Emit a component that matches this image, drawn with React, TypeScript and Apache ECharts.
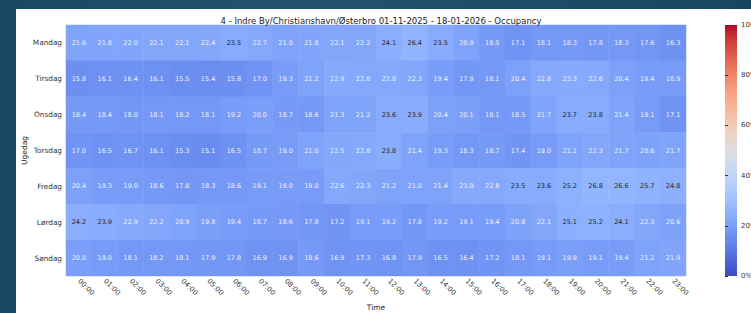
import React, { useEffect, useRef } from "react";
import * as echarts from "echarts";

const titleText = "4 - Indre By/Christianshavn/Østerbro 01-11-2025 - 18-01-2026 - Occupancy";
const days = ["Mandag", "Tirsdag", "Onsdag", "Torsdag", "Fredag", "Lørdag", "Søndag"];
const hours = [
  "00:00", "01:00", "02:00", "03:00", "04:00", "05:00", "06:00", "07:00",
  "08:00", "09:00", "10:00", "11:00", "12:00", "13:00", "14:00", "15:00",
  "16:00", "17:00", "18:00", "19:00", "20:00", "21:00", "22:00", "23:00",
];
const mandag = [21.6, 21.8, 22.0, 22.1, 22.1, 22.4, 23.5, 22.7, 21.0, 21.8, 22.1, 22.2, 24.1, 26.4, 23.5, 20.9, 18.5, 17.1, 18.1, 18.3, 17.8, 18.3, 17.6, 16.3];
const tirsdag = [15.8, 16.1, 16.4, 16.1, 15.5, 15.4, 15.8, 17.0, 19.3, 21.2, 22.9, 22.8, 22.8, 22.3, 19.4, 17.9, 18.1, 20.4, 22.6, 23.3, 22.6, 20.4, 19.4, 18.9];
const onsdag = [18.4, 18.4, 18.0, 18.1, 18.2, 18.1, 19.2, 20.0, 18.7, 18.6, 21.3, 21.2, 23.6, 23.9, 20.4, 20.1, 18.1, 18.5, 21.7, 23.7, 23.8, 21.4, 19.1, 17.1];
const torsdag = [17.0, 16.5, 16.7, 16.1, 15.3, 15.1, 16.5, 18.7, 19.0, 21.0, 22.5, 22.8, 23.8, 21.4, 19.3, 18.3, 18.7, 17.4, 19.0, 21.1, 22.3, 21.7, 20.6, 21.7];
const fredag = [20.4, 19.3, 19.0, 18.6, 17.8, 18.3, 18.6, 19.1, 19.0, 19.0, 22.6, 22.3, 21.2, 21.0, 21.4, 23.0, 22.8, 23.5, 23.6, 25.2, 26.8, 26.6, 25.7, 24.8];
const loerdag = [24.2, 23.9, 22.9, 22.2, 20.9, 19.8, 19.4, 18.7, 18.6, 17.8, 17.2, 19.1, 19.2, 17.8, 19.2, 19.1, 19.4, 20.8, 22.1, 25.1, 25.2, 24.1, 22.3, 20.6];
const soendag = [20.0, 19.0, 18.1, 18.2, 18.1, 17.9, 17.8, 16.9, 16.9, 18.6, 16.9, 17.3, 16.8, 17.9, 16.5, 16.4, 17.2, 18.1, 19.1, 19.9, 19.1, 19.4, 21.2, 21.9];
const rows = [mandag, tirsdag, onsdag, torsdag, fredag, loerdag, soendag];

const coolwarm = [
  "#3b4cc0", "#445acc", "#4d68d7", "#5775e1", "#6282ea", "#6c8ef1", "#779af7", "#82a5fb",
  "#8db0fe", "#98b9ff", "#a3c2ff", "#aec9fd", "#b8d0f9", "#c2d5f4", "#ccd9ee", "#d5dbe6",
  "#dddddd", "#e5d8d1", "#ecd3c5", "#f1ccb8", "#f5c4ac", "#f7bb9f", "#f7b193", "#f7a686",
  "#f49a7b", "#f18d6f", "#ec7f63", "#e57058", "#de604d", "#d55042", "#cb3e38", "#c0282f",
  "#b40426",
];

const FONT = "DejaVu Sans";

export default function App() {
  const ref = useRef<HTMLDivElement>(null);
  useEffect(() => {
    if (!ref.current) return;
    const chart = echarts.init(ref.current, undefined, { renderer: "svg" });
    const data: any[] = [];
    rows.forEach((row, yi) => {
      row.forEach((v, xi) => {
        data.push({
          value: [xi, yi, v],
          label: { color: v >= 23.4 ? "#262626" : "#eef1ff" },
        });
      });
    });
    const n = coolwarm.length - 1;
    const barGradient = new echarts.graphic.LinearGradient(
      0, 1, 0, 0,
      coolwarm.map((c, i) => ({ offset: i / n, color: c }))
    );
    chart.setOption({
      animation: false,
      backgroundColor: "#ffffff",
      textStyle: { fontFamily: FONT },
      title: {
        text: titleText,
        left: 360,
        top: 2,
        textAlign: "center",
        textStyle: { fontFamily: FONT, fontSize: 8.5, fontWeight: "normal", color: "#222" },
      },
      grid: [
        { left: 50, top: 16, width: 620, height: 251, outerBoundsMode: "none", containLabel: false },
        {
          left: 709, top: 16, width: 12, height: 251, outerBoundsMode: "none", containLabel: false,
          show: true, backgroundColor: barGradient, borderWidth: 0,
        },
      ],
      xAxis: [
        {
          type: "category",
          gridIndex: 0,
          data: hours,
          name: "Time",
          nameLocation: "middle",
          nameGap: 27,
          nameMoveOverlap: false,
          nameTextStyle: { fontFamily: FONT, fontSize: 7.5, color: "#262626" },
          axisLine: { show: false },
          axisTick: { alignWithLabel: true, length: 3, lineStyle: { color: "#333" } },
          axisLabel: { rotate: -45, interval: 0, fontSize: 7, color: "#333", margin: 4, fontFamily: FONT },
          splitLine: { show: false },
        },
        { type: "value", gridIndex: 1, show: false, min: 0, max: 1 },
      ],
      yAxis: [
        {
          type: "category",
          gridIndex: 0,
          data: days,
          inverse: true,
          name: "Ugedag",
          nameLocation: "middle",
          nameRotate: 90,
          nameGap: 38,
          nameMoveOverlap: false,
          nameTextStyle: { fontFamily: FONT, fontSize: 7.5, color: "#262626" },
          axisLine: { show: false },
          axisTick: { alignWithLabel: true, length: 3, lineStyle: { color: "#333" } },
          axisLabel: { fontSize: 7.3, color: "#333", margin: 4, fontFamily: FONT },
          splitLine: { show: false },
        },
        {
          type: "value",
          gridIndex: 1,
          min: 0,
          max: 100,
          interval: 20,
          position: "right",
          axisLine: { show: false },
          axisTick: { show: true, length: 3, lineStyle: { color: "#333" } },
          axisLabel: { formatter: "{value}%", fontSize: 7, color: "#333", margin: 4, fontFamily: FONT },
          splitLine: { show: false },
        },
      ],
      visualMap: {
        type: "continuous",
        show: false,
        seriesIndex: 0,
        min: 0,
        max: 100,
        inRange: { color: coolwarm },
      },
      series: [
        {
          type: "heatmap",
          xAxisIndex: 0,
          yAxisIndex: 0,
          data,
          label: {
            show: true,
            fontSize: 6.5,
            fontFamily: FONT,
            formatter: (p: any) => p.value[2].toFixed(1),
          },
          itemStyle: { borderWidth: 0 },
          emphasis: { disabled: true },
        },
      ],
    });
    return () => chart.dispose();
  }, []);
  return (
    <div style={{ position: "fixed", left: 0, top: 0, width: 751, height: 313, background: "linear-gradient(90deg, #1a4863, #21536f 40%, #184660)", overflow: "hidden" }}>
      <div ref={ref} style={{ position: "absolute", left: 16, top: 9, width: 735, height: 304 }} />
    </div>
  );
}
